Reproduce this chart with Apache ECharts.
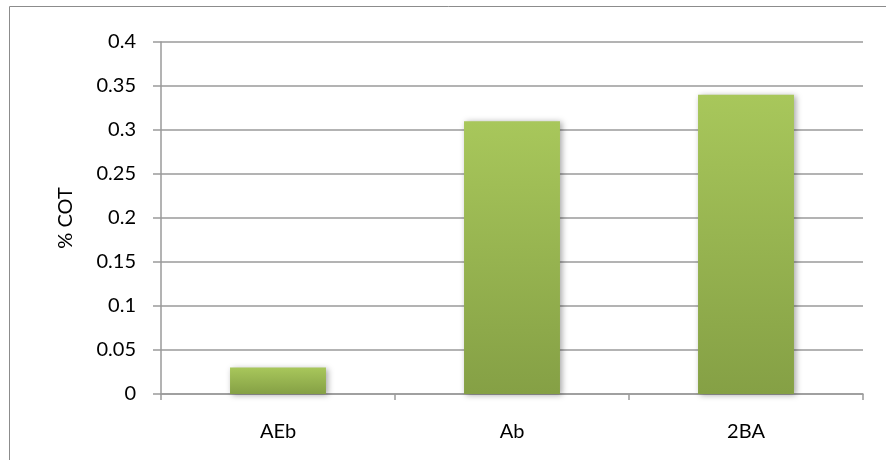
<!DOCTYPE html>
<html>
<head>
<meta charset="utf-8">
<script src="https://cdn.jsdelivr.net/npm/echarts@6/dist/echarts.min.js"></script>
<style>
  html, body { margin: 0; padding: 0; background: #fff; }
  #chart { width: 886px; height: 460px; }
</style>
</head>
<body>
<div id="chart"></div>
<script>
// data
const categories = ['AEb', 'Ab', '2BA']
const cotValues = [0.03, 0.31, 0.34]
const yTicks = ['0', '0.05', '0.1', '0.15', '0.2', '0.25', '0.3', '0.35', '0.4']

const chart = echarts.init(document.getElementById('chart'))
const font = 'Lato, "Open Sans", sans-serif'

chart.setOption({
    animation: false,
    graphic: [{
        // only the left/top edges of the frame are inside the picture
        type: 'rect',
        shape: { x: 9.5, y: 6.5, width: 900, height: 480 },
        style: { fill: 'none', stroke: '#8c8c8c', lineWidth: 1 },
        silent: true
    }],
    grid: { left: 161, right: 23, top: 42, bottom: 66 },
    xAxis: {
        type: 'category',
        data: categories,
        axisLine: { lineStyle: { color: '#9a9a9a', width: 1.5 } },
        axisTick: { show: true, length: 6, lineStyle: { color: '#9a9a9a', width: 1.5 } },
        axisLabel: { color: '#000', fontSize: 20, fontFamily: font, margin: 28 }
    },
    yAxis: {
        type: 'value',
        min: 0,
        max: 0.4,
        interval: 0.05,
        name: '% COT',
        nameLocation: 'middle',
        nameGap: 85,
        nameTextStyle: { color: '#000', fontSize: 20, fontFamily: font },
        axisLine: { show: true, lineStyle: { color: '#9a9a9a', width: 1.5 } },
        axisTick: { show: true, inside: false, length: 8, lineStyle: { color: '#9a9a9a', width: 1.5 } },
        axisLabel: {
            color: '#000', fontSize: 20, fontFamily: font, margin: 25,
            formatter: (v) => yTicks[Math.round(v / 0.05)]
        },
        splitLine: { lineStyle: { color: '#9a9a9a', width: 1.5 } }
    },
    series: [{
        type: 'bar',
        data: cotValues,
        barWidth: '41%',
        itemStyle: {
            color: new echarts.graphic.LinearGradient(0, 0, 0, 1, [
                { offset: 0, color: '#a8c75b' },
                { offset: 1, color: '#85a045' }
            ]),
            shadowColor: 'rgba(0,0,0,0.35)',
            shadowBlur: 6,
            shadowOffsetX: 2,
            shadowOffsetY: 1
        }
    }]
})
</script>
</body>
</html>
